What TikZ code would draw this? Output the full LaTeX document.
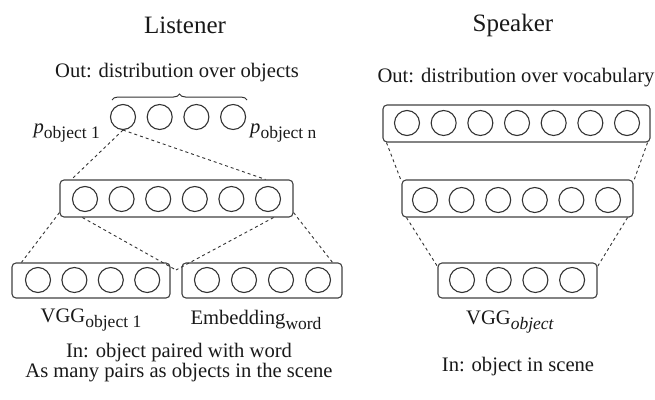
\documentclass[tikz,border=0pt]{standalone}
\usepackage{fontspec}
\setmainfont{Liberation Serif}
\usetikzlibrary{decorations.pathreplacing}
\newcommand{\lowidx}[1]{\raisebox{-0.28em}{\fontsize{17.5}{20}\selectfont #1}}

\begin{document}
\begin{tikzpicture}[x=1pt,y=-1pt,
  unit/.style={circle,draw=black!80,line width=1.1pt,minimum size=25pt,inner sep=0pt},
  layer/.style={rectangle,rounded corners=4pt,draw=black!75,line width=1.1pt,inner sep=0pt},
  link/.style={draw=black!80,line width=0.9pt,dash pattern=on 3pt off 3pt},
  txt/.style={font=\fontsize{20.6}{20}\selectfont,inner sep=0pt,text=black!90},
  title/.style={font=\fontsize{25}{30}\selectfont,inner sep=0pt,text=black!90}]
\useasboundingbox (0,0) rectangle (655,399);
% titles and captions
\node[title] (ltitle) at (185,25) {Listener};
\node[title] (stitle) at (513,25) {Speaker};
\node[txt] (lout) at (177,73) {Out: distribution over objects};
\node[txt] (sout) at (516,78) {Out: distribution over vocabulary};

% listener: output units
\foreach \i in {1,...,4}
  \node[unit] (lout-\i) at ({123+36.7*(\i-1)},117) {};
\draw[decorate,decoration={brace,amplitude=6pt},line width=1pt,black!80] (112,100) -- (247,100);
\node[txt,anchor=east] (pfirst) at (100,133) {\textit{p}\lowidx{object 1}};
\node[txt,anchor=west] (plast) at (250,133) {\textit{p}\lowidx{object n}};

% listener: hidden layer
\node[layer,minimum width=233,minimum height=37] (lhid) at (176.5,198.5) {};
\foreach \i in {1,...,6}
  \node[unit] (lhid-\i) at ({85+36.6*(\i-1)},199) {};

% listener: input layers
\node[layer,minimum width=158,minimum height=35] (lvgg) at (91,280.5) {};
\foreach \i in {1,...,4}
  \node[unit] (lvgg-\i) at ({38+36.4*(\i-1)},280) {};
\node[layer,minimum width=160,minimum height=35] (lemb) at (262,280.5) {};
\foreach \i in {1,...,4}
  \node[unit] (lemb-\i) at ({207+37*(\i-1)},280) {};
\node[txt] (lvgglab) at (91,320) {VGG\lowidx{object 1}};
\node[txt] (lemblab) at (256,320) {Embedding\lowidx{word}};
\node[txt,align=center] (lin) at (179,363) {In: object paired with word\\As many pairs as objects in the scene};

% listener: dashed links
\coordinate (join) at (176,270);
\draw[link] (lout-1.south) -- ([xshift=12pt]lhid.north west);
\draw[link] (lout-1.south) -- ([xshift=-28pt]lhid.north east);
\draw[link] ([yshift=5pt]lhid.south west) -- ([xshift=10pt]lvgg.north west);
\draw[link] ([xshift=23pt]lhid.south west) -- (join);
\draw[link] ([xshift=-20pt]lhid.south east) -- (join);
\draw[link] ([yshift=5pt]lhid.south east) -- ([xshift=-10pt]lemb.north east);

% speaker: three layers
\node[layer,minimum width=267,minimum height=37] (stop) at (516.5,123.5) {};
\foreach \i in {1,...,7}
  \node[unit] (stop-\i) at ({407+36.67*(\i-1)},123) {};
\node[layer,minimum width=231,minimum height=37] (smid) at (517.5,198.5) {};
\foreach \i in {1,...,6}
  \node[unit] (smid-\i) at ({425+36.6*(\i-1)},200) {};
\node[layer,minimum width=159,minimum height=35] (svgg) at (517.5,280.5) {};
\foreach \i in {1,...,4}
  \node[unit] (svgg-\i) at ({462+36.7*(\i-1)},280) {};
\node[txt] (svgglab) at (510,322) {VGG\lowidx{\textit{object}}};
\node[txt] (sin) at (518,367) {In: object in scene};

% speaker: dashed links
\draw[link] ([xshift=4pt]stop.south west) -- ([yshift=-2pt]smid.north west);
\draw[link] ([xshift=-3pt]stop.south east) -- ([yshift=-2pt]smid.north east);
\draw[link] ([xshift=5pt]smid.south west) -- ([yshift=-4pt]svgg.north west);
\draw[link] ([xshift=-6pt]smid.south east) -- ([yshift=-4pt]svgg.north east);
\end{tikzpicture}
\end{document}
